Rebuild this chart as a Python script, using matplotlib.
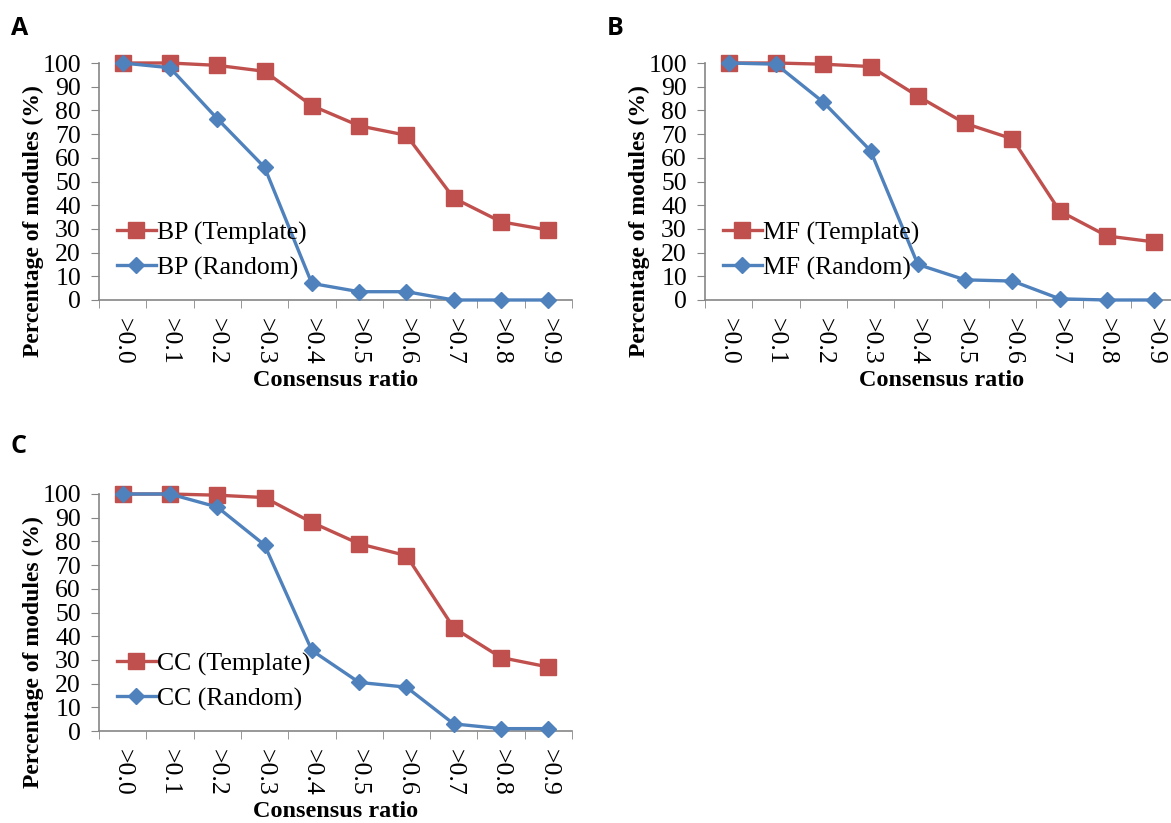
import matplotlib
matplotlib.use("Agg")
import matplotlib.pyplot as plt
import numpy as np

cats = [">0.0", ">0.1", ">0.2", ">0.3", ">0.4", ">0.5", ">0.6", ">0.7", ">0.8", ">0.9"]

bp_template = [100, 100, 99, 96.5, 82, 73.5, 69.5, 43, 33, 29.5]
bp_random = [100, 98, 76.5, 56, 7, 3.5, 3.5, 0, 0, 0]
mf_template = [100, 100, 99.5, 98.5, 86, 74.5, 68, 37.5, 27, 24.5]
mf_random = [100, 99.5, 83.5, 63, 15, 8.5, 8, 0.5, 0, 0]
cc_template = [100, 100, 99.5, 98.5, 88, 79, 74, 43.5, 31, 27]
cc_random = [100, 100, 94.5, 78.5, 34, 20.5, 18.5, 3, 1, 1]

red = "#C0504D"
blue = "#4F81BD"
gray = "#868686"
serif = "Liberation Serif"

W, H = 1171, 823
fig = plt.figure(figsize=(W / 100, H / 100), dpi=100)


def panel(left_px, y0_px, template, rand, name):
    # axes box in pixel coords of the reference
    ax = fig.add_axes([left_px / W, 1 - y0_px / H, 473 / W, 237 / H])
    x = np.arange(len(cats))
    ax.plot(x, template, color=red, lw=2.4, marker="s", ms=11, label=name + " (Template)")
    ax.plot(x, rand, color=blue, lw=2.4, marker="D", ms=8.5, label=name + " (Random)")
    ax.set_xlim(-0.5, len(cats) - 0.5)
    ax.set_ylim(0, 100)
    ax.set_yticks(range(0, 101, 10))
    ax.set_xticks(x)
    ax.set_xticklabels(cats, rotation=-90, family=serif, fontsize=18.5)
    ax.set_xticks(np.arange(-0.5, len(cats)), minor=True)
    ax.tick_params(axis="x", which="major", length=0, pad=13)
    ax.tick_params(axis="x", which="minor", length=6, color=gray, direction="out")
    ax.tick_params(axis="y", length=6, color=gray, direction="out", pad=7)
    for lab in ax.get_yticklabels():
        lab.set_family(serif)
        lab.set_fontsize(18.5)
    for s in ["top", "right"]:
        ax.spines[s].set_visible(False)
    for s in ["left", "bottom"]:
        ax.spines[s].set_color(gray)
        ax.spines[s].set_linewidth(1.2)
    ax.spines["bottom"].set_zorder(0)
    ax.set_xlabel("Consensus ratio", family=serif, fontsize=17.5, fontweight="bold", labelpad=4)
    # y label sits lower than the axis centre, as in the reference
    fig.text((left_px - 66) / W, 1 - (y0_px - 79) / H, "Percentage of modules (%)", family=serif,
             fontsize=17, fontweight="bold", rotation=90, ha="center", va="center")
    ax.legend(loc="lower left", bbox_to_anchor=(0.0, 0.01), frameon=False,
              prop={"family": serif, "size": 18.5}, handlelength=1.5, handletextpad=0.05,
              labelspacing=0.45, borderaxespad=0.3)
    for ln in ax.get_lines():
        ln.set_clip_on(False)
    return ax


panel(99, 300, bp_template, bp_random, "BP")
panel(705, 300, mf_template, mf_random, "MF")
panel(99, 731, cc_template, cc_random, "CC")

for txt, px, py in [("A", 11, 16), ("B", 607, 16), ("C", 11, 434)]:
    fig.text(px / W, 1 - py / H, txt, fontsize=18, fontweight="bold",
             family="Open Sans", va="top", ha="left")

fig.savefig("out.png", dpi=100)
